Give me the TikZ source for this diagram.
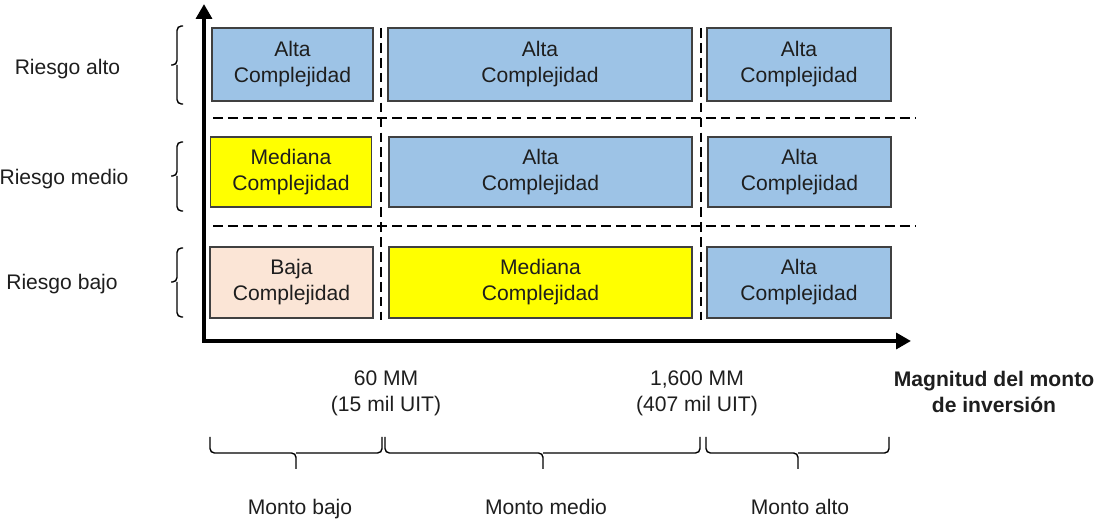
\documentclass[tikz,border=0pt]{standalone}
\usepackage{fontspec}
\setmainfont{Liberation Sans}
\usetikzlibrary{arrows.meta}

\definecolor{azulcaja}{RGB}{157,195,230}
\definecolor{amarillocaja}{RGB}{255,255,0}
\definecolor{rosacaja}{RGB}{251,229,214}
\definecolor{bordecaja}{RGB}{64,64,64}
\definecolor{texto}{RGB}{30,30,30}

\tikzset{
  tam/.style 2 args={minimum width=#1*0.02cm, minimum height=#2*0.02cm},
  caja/.style={draw=bordecaja, line width=0.7pt, inner sep=0pt, align=center, text=texto,
    font=\fontsize{12}{14.8}\selectfont},
  etiqueta/.style={inner sep=0pt, align=center, text=texto, font=\fontsize{12}{14.8}\selectfont}
}

\begin{document}
\begin{tikzpicture}[x=0.02cm,y=-0.02cm,
        eje/.style={line width=2.2pt, line join=miter},
        divisoria/.style={line width=1.2pt, dash pattern=on 5.5pt off 3pt},
        llave/.style={line width=0.8pt, rounded corners=2.5pt}]
        \useasboundingbox (0,0) rectangle (1101,519);

        \coordinate (origen) at (204,341);
        \coordinate (ejey) at (204,4);
        \coordinate (ejex) at (911,341);
        \draw[eje, {Triangle[length=8.5pt,width=9pt]}-{Triangle[length=8.5pt,width=9pt]}] (ejey) -- (origen) -- (ejex);

        \draw[divisoria] (213,118) -- (916,118);
        \draw[divisoria] (213,226) -- (916,226);
        \draw[divisoria] (381,28) -- (381,320);
        \draw[divisoria] (701,28) -- (701,320);

        % riesgo alto
        \node[caja, fill=azulcaja, tam={161}{73}] (altoBajo) at (292.5,64.5) {Alta\\Complejidad};
        \node[caja, fill=azulcaja, tam={304}{73}] (altoMedio) at (540,64.5) {Alta\\Complejidad};
        \node[caja, fill=azulcaja, tam={184}{73}] (altoAlto) at (799,64.5) {Alta\\Complejidad};
        % riesgo medio
        \node[caja, fill=amarillocaja, tam={161}{70}] (medioBajo) at (291,172) {Mediana\\Complejidad};
        \node[caja, fill=azulcaja, tam={303}{70}] (medioMedio) at (540.5,172) {Alta\\Complejidad};
        \node[caja, fill=azulcaja, tam={183}{70}] (medioAlto) at (799.5,172) {Alta\\Complejidad};
        % riesgo bajo
        \node[caja, fill=rosacaja, tam={163}{71}] (bajoBajo) at (291.5,282.5) {Baja\\Complejidad};
        \node[caja, fill=amarillocaja, tam={303}{71}] (bajoMedio) at (540.5,282.5) {Mediana\\Complejidad};
        \node[caja, fill=azulcaja, tam={184}{71}] (bajoAlto) at (799,282.5) {Alta\\Complejidad};

        \draw[llave] (183,26) -| (177,65) -- (171,65);
        \draw[llave] (183,104) -| (177,65);
        \draw[llave] (183,142) -| (177,176) -- (171,176);
        \draw[llave] (183,211) -| (177,176);
        \draw[llave] (183,248) -| (177,282) -- (171,282);
        \draw[llave] (183,317) -| (177,282);

        \node[etiqueta, anchor=base] (riesgoAlto) at (67.5,75) {Riesgo alto};
        \node[etiqueta, anchor=base] (riesgoMedio) at (64,185) {Riesgo medio};
        \node[etiqueta, anchor=base] (riesgoBajo) at (62,290) {Riesgo bajo};

        \node[etiqueta] (limiteBajo) at (386,393) {60 MM\\(15 mil UIT)};
        \node[etiqueta] (limiteAlto) at (697,393) {1,600 MM\\(407 mil UIT)};
        \node[etiqueta, font=\fontsize{12}{14.8}\selectfont\bfseries] (magnitud) at (994,392) {Magnitud del monto\\de inversión};

        \draw[llave] (210,437) |- (296,453) -- (296,469);
        \draw[llave] (382,437) |- (296,453);
        \draw[llave] (385,437) |- (543,453) -- (543,469);
        \draw[llave] (700,437) |- (543,453);
        \draw[llave] (706,437) |- (798,453) -- (798,469);
        \draw[llave] (889,437) |- (798,453);

        \node[etiqueta, anchor=base] (montoBajo) at (300,515) {Monto bajo};
        \node[etiqueta, anchor=base] (montoMedio) at (546,515) {Monto medio};
        \node[etiqueta, anchor=base] (montoAlto) at (800,515) {Monto alto};
\end{tikzpicture}
\end{document}
